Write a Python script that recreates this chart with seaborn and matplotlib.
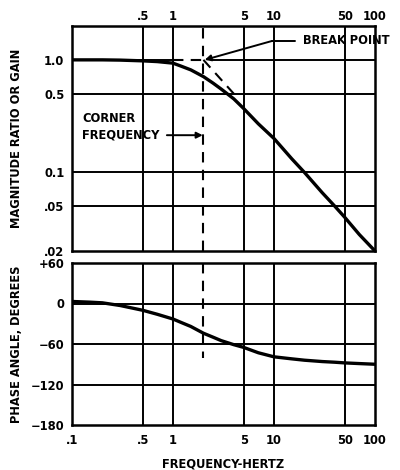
import numpy as np
import pandas as pd
import matplotlib
matplotlib.use("Agg")
import matplotlib.pyplot as plt
import seaborn as sns
from matplotlib.ticker import NullLocator

# ---- data ----
freq = [0.1, 0.15, 0.2, 0.3, 0.5, 0.7, 1.0, 1.2, 1.5, 2.0, 2.5, 3.0, 4.0, 5.0, 7.0,
        10.0, 15.0, 20.0, 30.0, 40.0, 50.0, 70.0, 100.0]
magnitude = [1.0, 1.0, 1.0, 0.995, 0.98, 0.965, 0.935, 0.88, 0.815, 0.71, 0.62, 0.55,
             0.45, 0.37, 0.27, 0.20, 0.132, 0.10, 0.066, 0.05, 0.04, 0.028, 0.02]
phase = [3, 2, 1, -3, -10, -16, -23, -28, -34, -44, -50, -55, -61, -65, -73,
         -79, -82, -84, -86, -87, -88, -89, -90]

freq_ticks = [0.1, 0.5, 1, 5, 10, 50, 100]
freq_labels = [".1", ".5", "1", "5", "10", "50", "100"]
freq_grid = [0.5, 1, 5, 10, 50]
mag_ticks = [0.02, 0.05, 0.1, 0.5, 1.0]
mag_labels = [".02", ".05", "0.1", "0.5", "1.0"]
mag_grid = [0.05, 0.1, 0.5]
phase_ticks = [-180, -120, -60, 0, 60]
phase_labels = ["\u2212180", "\u2212120", "\u221260", "0", "+60"]
phase_grid = [-120, -60, 0]

corner_freq = 2.0
asym_flat_x = [1.0, 2.0]
asym_flat_y = [1.0, 1.0]
asym_slope_x = [2.0, 4.4]
asym_slope_y = [1.0, 0.4545]

sns.set_theme(style="white")
plt.rcParams["font.family"] = ["DejaVu Sans"]
plt.rcParams["font.weight"] = "bold"
plt.rcParams["text.color"] = "black"
plt.rcParams["axes.labelcolor"] = "black"

W, H = 400, 470
fig = plt.figure(figsize=(4, 4.7), dpi=100)
ax1 = fig.add_axes([72 / W, 1 - 251 / H, 303 / W, 225 / H])
ax2 = fig.add_axes([72 / W, 1 - 425 / H, 303 / W, 162 / H])

df_mag = pd.DataFrame({"f": freq, "m": magnitude})
df_ph = pd.DataFrame({"f": freq, "p": phase})

curve_lw = 2.4
grid_lw = 1.4
spine_lw = 1.8
fs = 8.3
dash = (5, 3.5)

# ---- magnitude panel ----
ax1.set_xscale("log")
ax1.set_yscale("log")
ax1.set_xlim(0.1, 100)
ax1.set_ylim(0.02, 2.0)
for g in freq_grid:
    ax1.axvline(g, color="black", lw=grid_lw, zorder=1)
for g in mag_grid:
    ax1.axhline(g, color="black", lw=grid_lw, zorder=1)
# 1.0 grid line is broken where the dashed asymptote runs
ax1.axhline(1.0, xmin=0, xmax=(172 - 72) / 303, color="black", lw=grid_lw, zorder=1)
ax1.axhline(1.0, xmin=(212 - 72) / 303, xmax=1, color="black", lw=grid_lw, zorder=1)
sns.lineplot(data=df_mag, x="f", y="m", ax=ax1, color="black", lw=curve_lw, zorder=3)
ax1.plot(asym_flat_x, asym_flat_y, color="black", lw=1.5, dashes=dash, zorder=2)
ax1.plot(asym_slope_x, asym_slope_y, color="black", lw=1.5, dashes=dash, zorder=2)
ax1.axvline(corner_freq, color="black", lw=1.5, dashes=dash, zorder=2)

ax1.xaxis.tick_top()
ax1.set_xticks(freq_ticks[1:])
ax1.set_xticklabels(freq_labels[1:])
ax1.xaxis.set_minor_locator(NullLocator())
ax1.set_yticks(mag_ticks)
ax1.set_yticklabels(mag_labels)
ax1.yaxis.set_minor_locator(NullLocator())
ax1.set_xlabel("")
ax1.set_ylabel("MAGNITUDE RATIO OR GAIN", fontsize=fs, fontweight="bold")
ax1.yaxis.set_label_coords(-0.163, 0.5)

# annotations
ax1.text(0.762, 0.935, "BREAK POINT", transform=ax1.transAxes, fontsize=fs,
         fontweight="bold", ha="left", va="center", clip_on=False)
ax1.plot([16.0, 9.5], [1.47, 1.47], color="black", lw=1.4, clip_on=False, zorder=4)
ax1.annotate("", xy=(2.06, 1.0), xytext=(9.5, 1.47),
             arrowprops=dict(arrowstyle="-|>", color="black", lw=1.4,
                             mutation_scale=9, shrinkA=0, shrinkB=0), zorder=4)
ax1.text(0.033, 0.553, "CORNER\nFREQUENCY", transform=ax1.transAxes, fontsize=fs,
         fontweight="bold", ha="left", va="center", linespacing=1.4)
ax1.annotate("", xy=(1.97, 0.214), xytext=(0.87, 0.214),
             arrowprops=dict(arrowstyle="-|>", color="black", lw=1.4,
                             mutation_scale=9, shrinkA=0, shrinkB=0), zorder=4)

# ---- phase panel ----
ax2.set_xscale("log")
ax2.set_xlim(0.1, 100)
ax2.set_ylim(-180, 60)
for g in freq_grid:
    ax2.axvline(g, color="black", lw=grid_lw, zorder=1)
for g in phase_grid:
    ax2.axhline(g, color="black", lw=grid_lw, zorder=1)
sns.lineplot(data=df_ph, x="f", y="p", ax=ax2, color="black", lw=curve_lw, zorder=3)
ax2.plot([corner_freq, corner_freq], [60, -80], color="black", lw=1.5, dashes=dash, zorder=2)
ax2.set_xticks(freq_ticks)
ax2.set_xticklabels(freq_labels)
ax2.xaxis.set_minor_locator(NullLocator())
ax2.set_yticks(phase_ticks)
ax2.set_yticklabels(phase_labels)
ax2.set_xlabel("FREQUENCY-HERTZ", fontsize=fs, fontweight="bold")
ax2.xaxis.set_label_coords(0.5, -0.2)
ax2.set_ylabel("PHASE ANGLE, DEGREES", fontsize=fs, fontweight="bold")
ax2.yaxis.set_label_coords(-0.163, 0.5)

for ax in (ax1, ax2):
    for s in ax.spines.values():
        s.set_visible(True)
        s.set_color("black")
        s.set_linewidth(spine_lw)
    ax.tick_params(axis="y", length=0, labelsize=fs, pad=5.5, colors="black")
    for lab in ax.get_xticklabels() + ax.get_yticklabels():
        lab.set_fontweight("bold")
    if ax.get_legend():
        ax.get_legend().remove()
    ax.set_facecolor("white")
ax1.tick_params(axis="x", length=0, labelsize=fs, pad=2.5, colors="black")
ax2.tick_params(axis="x", length=0, labelsize=fs, pad=6.5, colors="black")

fig.savefig("out.png", dpi=100, facecolor="white")
